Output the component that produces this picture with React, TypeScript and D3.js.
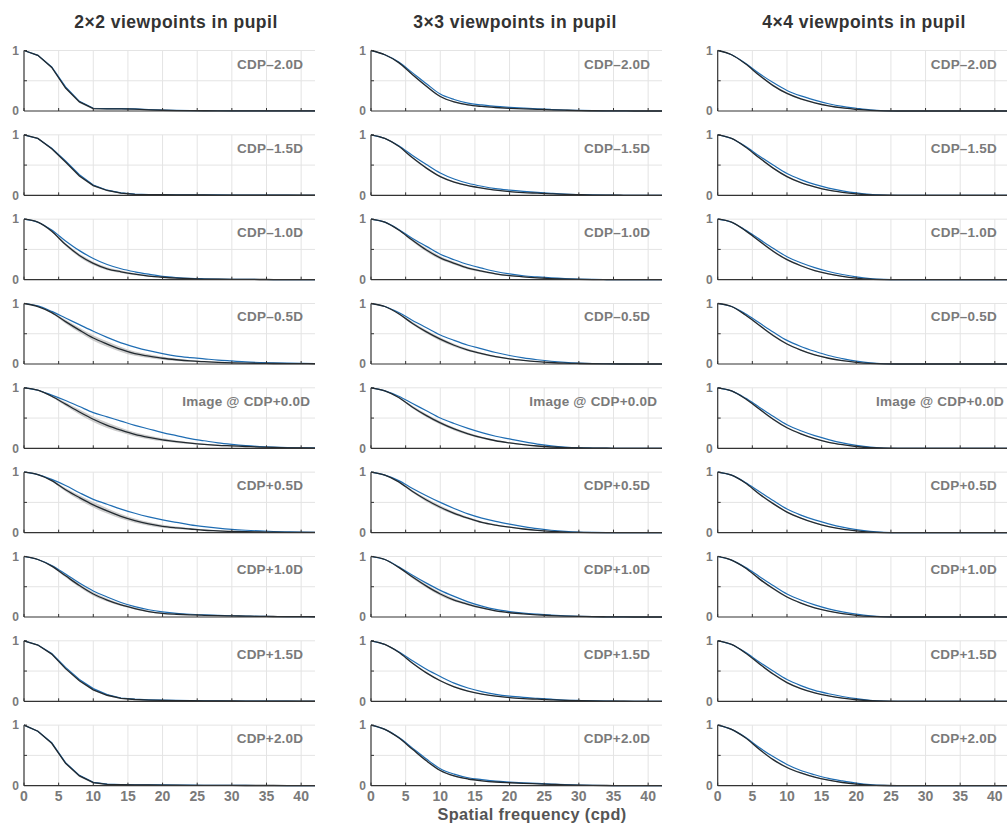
import React from "react";
import * as d3 from "d3";

// Spatial frequency samples (cpd)
const freqs = [0, 2, 4, 6, 8, 10, 12, 14, 16, 18, 20, 22, 24, 26, 28, 30, 32, 34, 36, 38, 40, 42];

const columnTitles = ["2\u00d72 viewpoints in pupil", "3\u00d73 viewpoints in pupil", "4\u00d74 viewpoints in pupil"];
const rowLabels = ["CDP\u20132.0D", "CDP\u20131.5D", "CDP\u20131.0D", "CDP\u20130.5D", "Image @ CDP+0.0D", "CDP+0.5D", "CDP+1.0D", "CDP+1.5D", "CDP+2.0D"];
const xTicks = [0, 5, 10, 15, 20, 25, 30, 35, 40];
const yTicks = [0, 1];
const xLabel = "Spatial frequency (cpd)";

// Spread (std) of the grey band
const sdSmall = [0, 0.003, 0.008, 0.014, 0.016, 0.014, 0.012, 0.01, 0.008, 0.006, 0.004, 0.003, 0.002, 0.001, 0.001, 0.001, 0, 0, 0, 0, 0, 0];
const sdMedium = [0, 0.004, 0.012, 0.022, 0.028, 0.028, 0.025, 0.02, 0.016, 0.012, 0.009, 0.007, 0.005, 0.004, 0.003, 0.002, 0.001, 0.001, 0.001, 0.001, 0, 0];
const sdLarge = [0, 0.005, 0.015, 0.03, 0.04, 0.045, 0.045, 0.04, 0.035, 0.03, 0.025, 0.02, 0.015, 0.012, 0.01, 0.008, 0.006, 0.005, 0.004, 0.003, 0.002, 0.002];

// Column 1 (2x2)
const mean1_1 = [1, 0.92, 0.72, 0.38, 0.15, 0.04, 0.035, 0.035, 0.03, 0.02, 0.012, 0.007, 0.005, 0.004, 0.003, 0.003, 0.002, 0.002, 0.002, 0.001, 0.001, 0.001];
const ref1_1 = [1, 0.92, 0.73, 0.4, 0.16, 0.045, 0.04, 0.04, 0.035, 0.025, 0.015, 0.01, 0.007, 0.005, 0.004, 0.003, 0.003, 0.002, 0.002, 0.001, 0.001, 0.001];
const mean1_2 = [1, 0.94, 0.77, 0.55, 0.32, 0.16, 0.08, 0.035, 0.015, 0.01, 0.01, 0.008, 0.007, 0.006, 0.005, 0.004, 0.003, 0.003, 0.002, 0.002, 0.001, 0.001];
const ref1_2 = [1, 0.94, 0.78, 0.57, 0.34, 0.17, 0.085, 0.04, 0.02, 0.013, 0.012, 0.01, 0.008, 0.007, 0.006, 0.005, 0.004, 0.003, 0.002, 0.002, 0.001, 0.001];
const mean1_3 = [1, 0.95, 0.8, 0.58, 0.4, 0.27, 0.18, 0.13, 0.09, 0.06, 0.04, 0.025, 0.015, 0.01, 0.007, 0.005, 0.004, 0.003, 0.002, 0.002, 0.001, 0.001];
const ref1_3 = [1, 0.95, 0.82, 0.64, 0.48, 0.35, 0.25, 0.18, 0.13, 0.09, 0.055, 0.035, 0.022, 0.015, 0.01, 0.006, 0.004, 0.003, 0.002, 0.002, 0.001, 0.001];
const mean1_4 = [1, 0.95, 0.85, 0.7, 0.56, 0.43, 0.33, 0.24, 0.17, 0.13, 0.095, 0.07, 0.05, 0.038, 0.028, 0.02, 0.015, 0.011, 0.008, 0.006, 0.005, 0.004];
const ref1_4 = [1, 0.96, 0.87, 0.76, 0.65, 0.54, 0.44, 0.35, 0.28, 0.22, 0.17, 0.13, 0.105, 0.085, 0.065, 0.05, 0.035, 0.025, 0.018, 0.013, 0.01, 0.008];
const mean1_5 = [1, 0.96, 0.86, 0.73, 0.6, 0.48, 0.38, 0.3, 0.23, 0.18, 0.14, 0.11, 0.085, 0.065, 0.05, 0.04, 0.03, 0.02, 0.014, 0.009, 0.006, 0.004];
const ref1_5 = [1, 0.96, 0.88, 0.79, 0.69, 0.59, 0.52, 0.45, 0.38, 0.32, 0.26, 0.21, 0.16, 0.125, 0.09, 0.065, 0.045, 0.03, 0.02, 0.013, 0.009, 0.006];
const mean1_6 = [1, 0.96, 0.86, 0.71, 0.58, 0.46, 0.36, 0.27, 0.2, 0.145, 0.105, 0.08, 0.06, 0.04, 0.03, 0.02, 0.015, 0.011, 0.008, 0.006, 0.005, 0.004];
const ref1_6 = [1, 0.96, 0.88, 0.78, 0.66, 0.55, 0.47, 0.39, 0.32, 0.26, 0.21, 0.17, 0.13, 0.1, 0.075, 0.055, 0.04, 0.028, 0.019, 0.013, 0.008, 0.006];
const mean1_7 = [1, 0.95, 0.84, 0.68, 0.52, 0.38, 0.28, 0.2, 0.14, 0.09, 0.06, 0.045, 0.035, 0.028, 0.022, 0.018, 0.014, 0.01, 0.008, 0.006, 0.005, 0.004];
const ref1_7 = [1, 0.95, 0.85, 0.71, 0.56, 0.43, 0.33, 0.24, 0.17, 0.12, 0.085, 0.06, 0.045, 0.035, 0.027, 0.02, 0.015, 0.011, 0.008, 0.006, 0.005, 0.004];
const mean1_8 = [1, 0.93, 0.78, 0.54, 0.34, 0.19, 0.1, 0.05, 0.03, 0.02, 0.015, 0.012, 0.01, 0.008, 0.006, 0.005, 0.004, 0.003, 0.002, 0.002, 0.001, 0.001];
const ref1_8 = [1, 0.93, 0.79, 0.56, 0.36, 0.21, 0.11, 0.055, 0.035, 0.025, 0.018, 0.014, 0.011, 0.009, 0.007, 0.005, 0.004, 0.003, 0.002, 0.002, 0.001, 0.001];
const mean1_9 = [1, 0.9, 0.7, 0.37, 0.16, 0.05, 0.02, 0.015, 0.012, 0.011, 0.01, 0.008, 0.006, 0.005, 0.004, 0.003, 0.002, 0.002, 0.002, 0.001, 0.001, 0.001];
const ref1_9 = [1, 0.9, 0.71, 0.38, 0.17, 0.055, 0.025, 0.018, 0.015, 0.013, 0.012, 0.01, 0.008, 0.006, 0.005, 0.004, 0.003, 0.002, 0.002, 0.001, 0.001, 0.001];

// Column 2 (3x3)
const mean2_1 = [1, 0.93, 0.8, 0.6, 0.41, 0.24, 0.15, 0.1, 0.075, 0.058, 0.045, 0.036, 0.028, 0.02, 0.013, 0.007, 0.004, 0.002, 0.001, 0, 0, 0];
const ref2_1 = [1, 0.93, 0.81, 0.63, 0.45, 0.28, 0.19, 0.13, 0.1, 0.075, 0.06, 0.047, 0.035, 0.025, 0.016, 0.01, 0.005, 0.003, 0.001, 0, 0, 0];
const mean2_2 = [1, 0.94, 0.81, 0.62, 0.45, 0.31, 0.22, 0.16, 0.12, 0.085, 0.06, 0.045, 0.035, 0.025, 0.016, 0.01, 0.005, 0.003, 0.001, 0, 0, 0];
const ref2_2 = [1, 0.94, 0.82, 0.66, 0.51, 0.37, 0.27, 0.2, 0.15, 0.11, 0.085, 0.065, 0.048, 0.033, 0.02, 0.012, 0.006, 0.003, 0.001, 0, 0, 0];
const mean2_3 = [1, 0.95, 0.82, 0.65, 0.49, 0.36, 0.27, 0.19, 0.14, 0.095, 0.065, 0.045, 0.03, 0.018, 0.01, 0.005, 0.002, 0.001, 0, 0, 0, 0];
const ref2_3 = [1, 0.95, 0.83, 0.68, 0.55, 0.42, 0.33, 0.25, 0.19, 0.135, 0.095, 0.065, 0.045, 0.028, 0.016, 0.008, 0.004, 0.002, 0, 0, 0, 0];
const mean2_4 = [1, 0.95, 0.83, 0.67, 0.53, 0.41, 0.31, 0.23, 0.17, 0.12, 0.085, 0.06, 0.04, 0.025, 0.014, 0.008, 0.004, 0.002, 0, 0, 0, 0];
const ref2_4 = [1, 0.95, 0.85, 0.72, 0.6, 0.48, 0.39, 0.31, 0.25, 0.19, 0.14, 0.1, 0.07, 0.045, 0.027, 0.015, 0.008, 0.004, 0.002, 0, 0, 0];
const mean2_5 = [1, 0.95, 0.84, 0.68, 0.54, 0.42, 0.32, 0.24, 0.175, 0.125, 0.09, 0.06, 0.038, 0.022, 0.012, 0.006, 0.003, 0.001, 0, 0, 0, 0];
const ref2_5 = [1, 0.95, 0.86, 0.74, 0.62, 0.5, 0.41, 0.33, 0.26, 0.2, 0.155, 0.11, 0.07, 0.042, 0.022, 0.01, 0.005, 0.002, 0, 0, 0, 0];
const mean2_6 = [1, 0.95, 0.84, 0.68, 0.54, 0.42, 0.32, 0.24, 0.17, 0.125, 0.09, 0.06, 0.036, 0.02, 0.01, 0.005, 0.002, 0.001, 0, 0, 0, 0];
const ref2_6 = [1, 0.95, 0.86, 0.73, 0.61, 0.5, 0.4, 0.31, 0.24, 0.185, 0.14, 0.1, 0.065, 0.04, 0.022, 0.01, 0.005, 0.002, 0, 0, 0, 0];
const mean2_7 = [1, 0.95, 0.82, 0.66, 0.51, 0.38, 0.28, 0.21, 0.15, 0.1, 0.07, 0.05, 0.035, 0.024, 0.015, 0.009, 0.005, 0.003, 0.001, 0, 0, 0];
const ref2_7 = [1, 0.95, 0.83, 0.69, 0.56, 0.44, 0.34, 0.25, 0.18, 0.125, 0.09, 0.065, 0.047, 0.032, 0.02, 0.012, 0.006, 0.003, 0.001, 0, 0, 0];
const mean2_8 = [1, 0.94, 0.81, 0.63, 0.47, 0.34, 0.24, 0.17, 0.12, 0.085, 0.06, 0.045, 0.035, 0.025, 0.016, 0.01, 0.005, 0.003, 0.001, 0, 0, 0];
const ref2_8 = [1, 0.94, 0.82, 0.67, 0.53, 0.41, 0.3, 0.22, 0.16, 0.115, 0.085, 0.065, 0.05, 0.035, 0.022, 0.014, 0.007, 0.003, 0.001, 0, 0, 0];
const mean2_9 = [1, 0.93, 0.79, 0.6, 0.41, 0.25, 0.16, 0.11, 0.08, 0.06, 0.048, 0.038, 0.03, 0.022, 0.014, 0.008, 0.004, 0.002, 0.001, 0, 0, 0];
const ref2_9 = [1, 0.93, 0.8, 0.62, 0.44, 0.28, 0.19, 0.13, 0.1, 0.075, 0.06, 0.047, 0.036, 0.026, 0.017, 0.01, 0.005, 0.002, 0.001, 0, 0, 0];

// Column 3 (4x4)
const mean3_1 = [1, 0.93, 0.78, 0.59, 0.42, 0.29, 0.2, 0.135, 0.085, 0.05, 0.028, 0.01, 0.002, 0, 0, 0, 0, 0, 0, 0, 0, 0];
const ref3_1 = [1, 0.93, 0.79, 0.62, 0.47, 0.34, 0.25, 0.18, 0.12, 0.075, 0.045, 0.018, 0.004, 0, 0, 0, 0, 0, 0, 0, 0, 0];
const mean3_2 = [1, 0.94, 0.8, 0.62, 0.45, 0.31, 0.21, 0.14, 0.085, 0.05, 0.025, 0.008, 0.002, 0, 0, 0, 0, 0, 0, 0, 0, 0];
const ref3_2 = [1, 0.94, 0.81, 0.65, 0.5, 0.36, 0.26, 0.18, 0.12, 0.075, 0.04, 0.015, 0.004, 0, 0, 0, 0, 0, 0, 0, 0, 0];
const mean3_3 = [1, 0.95, 0.81, 0.64, 0.47, 0.33, 0.23, 0.15, 0.095, 0.055, 0.027, 0.009, 0.002, 0, 0, 0, 0, 0, 0, 0, 0, 0];
const ref3_3 = [1, 0.95, 0.82, 0.67, 0.52, 0.38, 0.28, 0.2, 0.135, 0.085, 0.045, 0.017, 0.004, 0, 0, 0, 0, 0, 0, 0, 0, 0];
const mean3_4 = [1, 0.95, 0.81, 0.64, 0.47, 0.33, 0.23, 0.15, 0.095, 0.055, 0.028, 0.01, 0.002, 0, 0, 0, 0, 0, 0, 0, 0, 0];
const ref3_4 = [1, 0.95, 0.83, 0.68, 0.53, 0.39, 0.29, 0.21, 0.14, 0.09, 0.048, 0.018, 0.004, 0, 0, 0, 0, 0, 0, 0, 0, 0];
const mean3_5 = [1, 0.95, 0.82, 0.65, 0.48, 0.34, 0.24, 0.16, 0.1, 0.06, 0.03, 0.01, 0.002, 0, 0, 0, 0, 0, 0, 0, 0, 0];
const ref3_5 = [1, 0.95, 0.83, 0.68, 0.53, 0.39, 0.29, 0.21, 0.145, 0.09, 0.05, 0.02, 0.005, 0, 0, 0, 0, 0, 0, 0, 0, 0];
const mean3_6 = [1, 0.95, 0.82, 0.64, 0.48, 0.34, 0.24, 0.16, 0.1, 0.058, 0.03, 0.01, 0.002, 0, 0, 0, 0, 0, 0, 0, 0, 0];
const ref3_6 = [1, 0.95, 0.83, 0.68, 0.53, 0.39, 0.29, 0.21, 0.145, 0.09, 0.05, 0.02, 0.005, 0, 0, 0, 0, 0, 0, 0, 0, 0];
const mean3_7 = [1, 0.94, 0.81, 0.63, 0.47, 0.33, 0.23, 0.15, 0.095, 0.055, 0.028, 0.01, 0.002, 0, 0, 0, 0, 0, 0, 0, 0, 0];
const ref3_7 = [1, 0.94, 0.82, 0.67, 0.52, 0.38, 0.28, 0.2, 0.135, 0.085, 0.046, 0.018, 0.004, 0, 0, 0, 0, 0, 0, 0, 0, 0];
const mean3_8 = [1, 0.94, 0.8, 0.62, 0.45, 0.31, 0.21, 0.14, 0.09, 0.052, 0.026, 0.009, 0.002, 0, 0, 0, 0, 0, 0, 0, 0, 0];
const ref3_8 = [1, 0.94, 0.81, 0.65, 0.5, 0.36, 0.26, 0.18, 0.125, 0.08, 0.043, 0.016, 0.004, 0, 0, 0, 0, 0, 0, 0, 0, 0];
const mean3_9 = [1, 0.93, 0.79, 0.6, 0.43, 0.3, 0.21, 0.14, 0.09, 0.052, 0.026, 0.009, 0.002, 0, 0, 0, 0, 0, 0, 0, 0, 0];
const ref3_9 = [1, 0.93, 0.8, 0.63, 0.48, 0.35, 0.25, 0.18, 0.12, 0.078, 0.042, 0.016, 0.004, 0, 0, 0, 0, 0, 0, 0, 0, 0];

const means = [
  [mean1_1, mean1_2, mean1_3, mean1_4, mean1_5, mean1_6, mean1_7, mean1_8, mean1_9],
  [mean2_1, mean2_2, mean2_3, mean2_4, mean2_5, mean2_6, mean2_7, mean2_8, mean2_9],
  [mean3_1, mean3_2, mean3_3, mean3_4, mean3_5, mean3_6, mean3_7, mean3_8, mean3_9],
];
const refs = [
  [ref1_1, ref1_2, ref1_3, ref1_4, ref1_5, ref1_6, ref1_7, ref1_8, ref1_9],
  [ref2_1, ref2_2, ref2_3, ref2_4, ref2_5, ref2_6, ref2_7, ref2_8, ref2_9],
  [ref3_1, ref3_2, ref3_3, ref3_4, ref3_5, ref3_6, ref3_7, ref3_8, ref3_9],
];
const sds = [
  [sdSmall, sdSmall, sdMedium, sdLarge, sdLarge, sdLarge, sdMedium, sdSmall, sdSmall],
  [sdSmall, sdSmall, sdMedium, sdMedium, sdMedium, sdMedium, sdMedium, sdSmall, sdSmall],
  [sdSmall, sdSmall, sdSmall, sdSmall, sdSmall, sdSmall, sdSmall, sdSmall, sdSmall],
];

// Layout
const W = 1007;
const H = 831;
const colX0 = [24, 371, 717.7];
const plotW = 291;
const row0Zero = 111;
const rowPitch = 84.33;
const plotH = 60.5;
const titleCenters = [176, 515, 864];
const FONT = "'Liberation Sans', Arial, Helvetica, sans-serif";
const GREY_TEXT = "#7a7a7a";
const AXIS = "#333";
const GRID = "#e4e4e4";
const BLUE = "#1f6db3";
const BLACK = "#222a30";

function Panel({ col, row }: { col: number; row: number }) {
  const x0 = colX0[col];
  const zero = row0Zero + row * rowPitch;
  const top = zero - plotH;
  const x = d3.scaleLinear().domain([0, 42]).range([x0, x0 + plotW]);
  const y = d3.scaleLinear().domain([0, 1]).range([zero, top]);
  const mean = means[col][row];
  const ref = refs[col][row];
  const sd = sds[col][row];
  const kinked = col === 0 && (row <= 1 || row >= 7);
  const curve = kinked ? d3.curveLinear : d3.curveMonotoneX;
  const pts = freqs.map((f, i) => ({ f, m: mean[i], r: ref[i], s: sd[i] }));
  const line = d3.line<any>().x((d) => x(d.f)).y((d) => y(d.m)).curve(curve);
  const lineRef = d3.line<any>().x((d) => x(d.f)).y((d) => y(d.r)).curve(curve);
  const area = d3
    .area<any>()
    .x((d) => x(d.f))
    .y0((d) => y(Math.max(0, d.m - d.s)))
    .y1((d) => y(Math.min(1, d.m + d.s)))
    .curve(curve);
  const label = rowLabels[row];
  const isImage = label.startsWith("Image");
  const labelX = x(isImage ? 41.3 : 40.3);
  const isBottom = row === 8;
  return (
    <g>
      {xTicks.slice(1).map((t) => (
        <line key={"vg" + t} x1={x(t)} x2={x(t)} y1={zero} y2={top} stroke={GRID} strokeWidth={1} />
      ))}
      {[0.5, 1].map((t) => (
        <line key={"hg" + t} x1={x0} x2={x0 + plotW} y1={y(t)} y2={y(t)} stroke={GRID} strokeWidth={1} />
      ))}
      <path d={area(pts) || ""} fill="#c4c4c4" opacity={0.85} />
      <path d={lineRef(pts) || ""} fill="none" stroke={BLUE} strokeWidth={1.2} />
      <path d={line(pts) || ""} fill="none" stroke={BLACK} strokeWidth={1.3} />
      <line x1={x0} x2={x0 + plotW} y1={zero} y2={zero} stroke={AXIS} strokeWidth={1.2} />
      <line x1={x0} x2={x0} y1={zero} y2={top} stroke={AXIS} strokeWidth={1.2} />
      {xTicks.map((t) => (
        <line key={"xt" + t} x1={x(t)} x2={x(t)} y1={zero} y2={zero - 3} stroke={AXIS} strokeWidth={1} />
      ))}
      {[0.5, 1].map((t) => (
        <line key={"yt" + t} x1={x0} x2={x0 + 3} y1={y(t)} y2={y(t)} stroke={AXIS} strokeWidth={1} />
      ))}
      {yTicks.map((t) => (
        <text
          key={"yl" + t}
          x={x0 - 5}
          y={y(t)}
          dy="0.36em"
          textAnchor="end"
          fontFamily={FONT}
          fontWeight="bold"
          fontSize={12}
          fill={GREY_TEXT}
        >
          {t}
        </text>
      ))}
      <text
        x={labelX}
        y={top + 18}
        textAnchor="end"
        fontFamily={FONT}
        fontWeight="bold"
        fontSize={13.5}
        letterSpacing={0.2}
        fill={GREY_TEXT}
      >
        {label}
      </text>
      {isBottom &&
        xTicks.map((t) => (
          <text
            key={"xl" + t}
            x={x(t)}
            y={zero + 15.5}
            textAnchor="middle"
            fontFamily={FONT}
            fontWeight="bold"
            fontSize={14}
            fill={GREY_TEXT}
          >
            {t}
          </text>
        ))}
    </g>
  );
}

export default function App() {
  return (
    <svg
      width={W}
      height={H}
      viewBox={`0 0 ${W} ${H}`}
      style={{ position: "absolute", left: 0, top: 0, background: "#fff" }}
    >
      <rect x={0} y={0} width={W} height={H} fill="#fff" />
      {columnTitles.map((t, c) => (
        <text
          key={"t" + c}
          x={titleCenters[c]}
          y={28}
          textAnchor="middle"
          fontFamily={FONT}
          fontWeight="bold"
          fontSize={17.5}
          letterSpacing={0.5}
          fill="#333"
        >
          {t}
        </text>
      ))}
      {[0, 1, 2].map((c) =>
        rowLabels.map((_, r) => <Panel key={c + "-" + r} col={c} row={r} />)
      )}
      <text
        x={532}
        y={819.5}
        textAnchor="middle"
        fontFamily={FONT}
        fontWeight="bold"
        fontSize={16.3}
        letterSpacing={0.4}
        fill="#555"
      >
        {xLabel}
      </text>
    </svg>
  );
}
